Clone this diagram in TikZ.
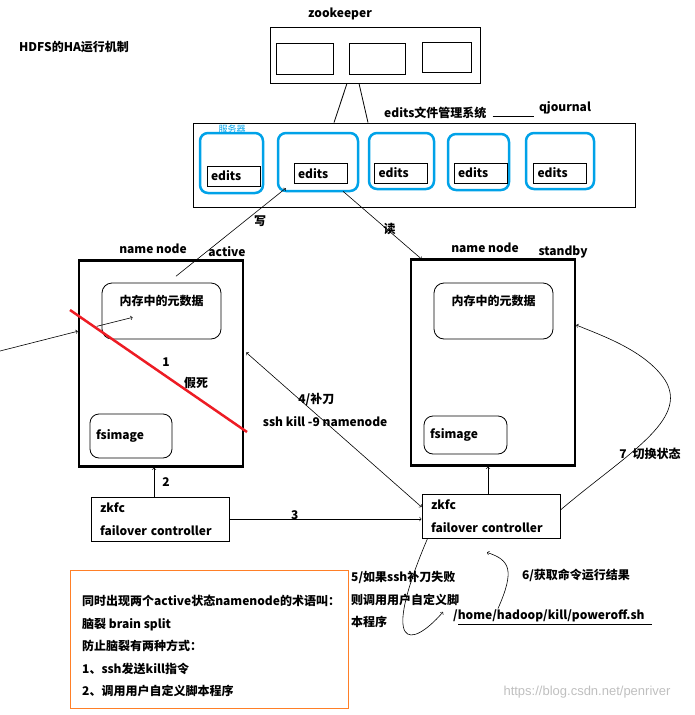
\documentclass[tikz,border=0pt]{standalone}
\usepackage{fontspec}
\setmainfont{Noto Sans CJK SC}
\newfontfamily\wmfont{Liberation Sans}
\usetikzlibrary{positioning,calc}
\definecolor{paintblue}{RGB}{0,162,232}
\definecolor{paintred}{RGB}{237,28,36}
\definecolor{paintorange}{RGB}{255,127,39}

\begin{document}
\begin{tikzpicture}[x=1pt,y=-1pt,
	txt/.style={inner sep=1pt, font=\bfseries\fontsize{12}{14}\selectfont},
	box/.style={draw, line width=0.9pt, inner sep=0pt},
	server/.style={draw=paintblue, line width=2.5pt, rounded corners=8pt, inner sep=0pt},
	editsbox/.style={draw, line width=0.9pt, txt, minimum height=20pt, text width=45pt, inner xsep=4pt, align=left},
	nn/.style={draw, line width=2.5pt, minimum width=164pt, minimum height=206pt},
	mem/.style={draw, line width=0.8pt, rounded corners=10pt, minimum width=119pt, minimum height=56pt},
	fsbox/.style={draw, line width=0.8pt, rounded corners=9pt, txt, align=left, inner xsep=6pt},
	zkbox/.style={draw, line width=0.9pt, txt, font=\bfseries\fontsize{12}{23}\selectfont, align=left, text width=120pt, inner xsep=9pt, minimum height=44pt},
	conn/.style={->, line width=0.6pt}]
	\useasboundingbox (0,0) rectangle (695,715);

	\node[txt, anchor=west] (title) at (18,47) {HDFS的HA运行机制};

	% zookeeper
	\node[txt] (zklabel) at (340,14) {zookeeper};
	\node[box, minimum width=210pt, minimum height=56pt] (zk) at (375,55) {};
	\node[box, minimum width=57pt, minimum height=31pt] (zk1) at (304.5,58.5) {};
	\node[box, minimum width=56pt, minimum height=31pt] (zk2) at (377,58.5) {};
	\node[box, minimum width=49pt, minimum height=30pt] (zk3) at (446.5,57) {};

	% qjournal
	\node[box, minimum width=442pt, minimum height=84pt] (jn) at (414,165) {};
	\node[txt, anchor=west] (efs) at (383,113) {edits文件管理系统};
	\node[txt] (qj) at (565,108) {qjournal};
	\draw[line width=0.8pt] ($(efs.east)+(5,3)$) -- ($(efs.east -| qj.west)+(-4,3)$);
	\node[inner sep=0pt, text=paintblue, font=\fontsize{9}{10}\selectfont] (srv) at (232,129) {服务器};
	\node[server, minimum width=63pt, minimum height=60pt] (s1) at (231.5,163) {};
	\node[server, minimum width=80pt, minimum height=58pt] (s2) at (318,162) {};
	\node[server, minimum width=65pt, minimum height=56pt] (s3) at (401.5,161) {};
	\node[server, minimum width=61pt, minimum height=56pt] (s4) at (478.5,162) {};
	\node[server, minimum width=68pt, minimum height=56pt] (s5) at (560,161) {};
	\node[editsbox] (e1) at (233.5,176) {edits};
	\node[editsbox] (e2) at (320.5,173.5) {edits};
	\node[editsbox] (e3) at (401,173) {edits};
	\node[editsbox] (e4) at (480.5,173) {edits};
	\node[editsbox] (e5) at (560,173) {edits};
	\draw[line width=0.8pt] ($(zk.south)+(-28,0)$) -- ($(jn.north)+(-80,0)$);
	\draw[line width=0.8pt] ($(zk.south)+(-16,0)$) -- ($(jn.north)+(-46,0)$);

	% active name node
	\node[txt] (nnlabel1) at (153,249) {name node};
	\node[txt] (act) at (227,252) {active};
	\node[nn] (nn1) at (161,363.5) {};
	\node[mem] (mem1) at (161.5,311) {};
	\node[txt, below=11pt of mem1.north] (memtxt1) {内存中的元数据};
	\node[fsbox, text width=70pt, minimum height=44pt] (fs1) at (131,436) {fsimage};

	% standby name node
	\node[txt] (nnlabel2) at (485,248) {name node};
	\node[txt] (stb) at (563,252) {standby};
	\node[nn] (nn2) at (493,362.5) {};
	\node[mem] (mem2) at (493.5,311) {};
	\node[txt, below=11pt of mem2.north] (memtxt2) {内存中的元数据};
	\node[fsbox, text width=71pt, minimum height=38pt] (fs2) at (465.5,435) {fsimage};

	% zkfc
	\node[zkbox] (zkfc1) at (160,519) {zkfc\\failover controller};
	\node[zkbox] (zkfc2) at (491,516) {zkfc\\failover controller};

	% write / read
	\draw[conn] ($(nn1.north)+(15,17)$) -- node[pos=0.7, txt, below right] {写} ($(s2.south west)+(9,-4)$);
	\draw[conn] ($(s2.south)+(25,-1)$) -- node[pos=0.55, txt, right=-4pt] {读} ($(nn2.north west)+(12,1)$);

	% client
	\coordinate (client) at (0,351);
	\draw[conn] (client) -- ($(nn1.north west)+(0,72)$);
	\draw[conn] ($(mem1.south west)+(-5,-13)$) -- ($(mem1.south west)+(31,-22)$);

	% 1
	\draw[paintred, line width=2.5pt] (70,310) -- (247,432);
	\node[txt] (one) at (166,362) {1};
	\node[txt] (dead) at (196,383) {假死};

	% 2, 3, 4
	\draw[conn] ([xshift=-6pt]zkfc1.north) -- node[txt, right=7pt] {2} ([xshift=-7pt]nn1.south);
	\draw[conn] ([xshift=-3pt]zkfc2.north) -- ([xshift=-5pt]nn2.south);
	\draw[conn] (zkfc1.east) -- node[pos=0.34, txt, yshift=4pt] {3} (zkfc1.east -| zkfc2.west);
	\draw[conn, <->] ($(nn1.east)+(2,-11)$) -- node[pos=0.4, txt, yshift=15pt] {4/补刀} node[pos=0.45, txt] {ssh kill -9 namenode} ($(zkfc2.west)+(0,-9)$);

	% 5, 6
	\node[txt, anchor=west] (script) at (452,616) {/home/hadoop/kill/poweroff.sh};
	\draw[line width=0.8pt] ($(script.south west)+(6,1)$) -- ($(script.south east)+(6,1)$);
	\node[txt, font=\bfseries\fontsize{12}{22.5}\selectfont, anchor=north west, align=left] (fail) at (350,570) {5/如果ssh补刀失败\\则调用用户自定义脚\\本程序};
	\draw[conn] ($(zkfc2.south west)+(6,0)$) .. controls (380,650) and (410,650) .. ($(script.west)+(-9,-4)$);
	\node[txt] (six) at (576,575) {6/获取命令运行结果};
	\draw[conn] ($(script.north west)+(46,0)$) .. controls (515,570) and (510,560) .. ($(zkfc2.south)+(-4,14)$);

	% 7
	\node[txt] (seven) at (650,454) {7\enspace 切换状态};
	\draw[conn] ([yshift=6pt]zkfc2.east) .. controls (625,455) and (690,420) .. (665,380) .. controls (645,350) and (600,335) .. ([yshift=37.5pt]nn2.east);

	% brain split
	\node[draw=paintorange, line width=1pt, minimum width=278pt, minimum height=138pt] (note) at (209,639) {};
	\node[txt, font=\bfseries\fontsize{12}{22.5}\selectfont, anchor=north west, align=left] (notetxt) at (81,594) {同时出现两个active状态namenode的术语叫：\\脑裂 brain split\\防止脑裂有两种方式：\\1、ssh发送kill指令\\2、调用用户自定义脚本程序};

	\node[text=black!25, font=\wmfont\fontsize{13}{15}\selectfont] (wm) at (587,692) {https://blog.csdn.net/penriver};
\end{tikzpicture}
\end{document}
